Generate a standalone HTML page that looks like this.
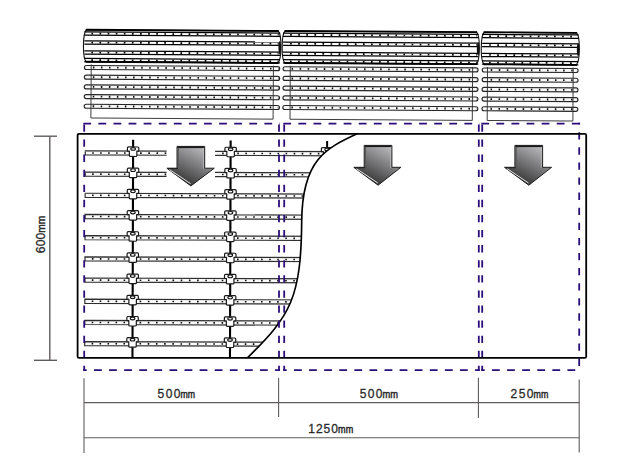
<!DOCTYPE html>
<html><head><meta charset="utf-8"><title>diagram</title>
<style>html,body{margin:0;padding:0;background:#fff;width:633px;height:470px;overflow:hidden}svg{display:block}</style>
</head><body>
<svg width="633" height="470" viewBox="0 0 633 470"><g transform="rotate(0.36 330 70)">
<path d="M86.19999999999999,31.3 L277.9,31.3 C280.1,33.3 280.8,39.3 280.8,47.3 C280.8,55.3 280.1,61.3 277.9,63.3 L86.19999999999999,63.3 C84.0,61.3 83.3,55.3 83.3,47.3 C83.3,39.3 84.0,33.3 86.19999999999999,31.3 Z" fill="#fff" stroke="#111" stroke-width="1.1"/>
<line x1="84.19999999999999" y1="33.4" x2="279.9" y2="33.4" stroke="#000" stroke-width="1.25"/>
<line x1="84.19999999999999" y1="36.7" x2="279.9" y2="36.7" stroke="#000" stroke-width="1.25"/>
<line x1="91.19999999999999" y1="35.05" x2="278.5" y2="35.05" stroke="#000" stroke-width="1.7" stroke-dasharray="1.7 6.4"/>
<line x1="84.19999999999999" y1="42.3" x2="279.9" y2="42.3" stroke="#000" stroke-width="1.25"/>
<line x1="84.19999999999999" y1="45.7" x2="279.9" y2="45.7" stroke="#000" stroke-width="1.25"/>
<line x1="91.19999999999999" y1="44.0" x2="278.5" y2="44.0" stroke="#000" stroke-width="1.7" stroke-dasharray="1.7 6.4"/>
<line x1="84.19999999999999" y1="52.4" x2="279.9" y2="52.4" stroke="#000" stroke-width="1.25"/>
<line x1="84.19999999999999" y1="55.6" x2="279.9" y2="55.6" stroke="#000" stroke-width="1.25"/>
<line x1="91.19999999999999" y1="54.0" x2="278.5" y2="54.0" stroke="#000" stroke-width="1.7" stroke-dasharray="1.7 6.4"/>
<line x1="84.19999999999999" y1="60.0" x2="279.9" y2="60.0" stroke="#000" stroke-width="1.25"/>
<line x1="84.19999999999999" y1="63.2" x2="279.9" y2="63.2" stroke="#000" stroke-width="1.25"/>
<line x1="91.19999999999999" y1="61.6" x2="278.5" y2="61.6" stroke="#000" stroke-width="1.7" stroke-dasharray="1.7 6.4"/>
<line x1="85.6" y1="63.3" x2="278.5" y2="63.3" stroke="#000" stroke-width="1.8"/>
<line x1="85.6" y1="31.3" x2="278.5" y2="31.3" stroke="#000" stroke-width="1.8"/>
<ellipse cx="279.6" cy="48.0" rx="1.3" ry="6.8" fill="#111"/>
<rect x="84.39999999999999" y="67.0" width="195.3" height="4" rx="2" fill="#f8f8f8" stroke="#262626" stroke-width="1.15"/>
<line x1="92.89999999999999" y1="69.0" x2="278.5" y2="69.0" stroke="#111" stroke-width="1.9" stroke-dasharray="1.5 6.55"/>
<rect x="84.39999999999999" y="76.7" width="195.3" height="4" rx="2" fill="#f8f8f8" stroke="#262626" stroke-width="1.15"/>
<line x1="92.89999999999999" y1="78.7" x2="278.5" y2="78.7" stroke="#111" stroke-width="1.9" stroke-dasharray="1.5 6.55"/>
<rect x="84.39999999999999" y="86.4" width="195.3" height="4" rx="2" fill="#f8f8f8" stroke="#262626" stroke-width="1.15"/>
<line x1="92.89999999999999" y1="88.4" x2="278.5" y2="88.4" stroke="#111" stroke-width="1.9" stroke-dasharray="1.5 6.55"/>
<rect x="84.39999999999999" y="96.1" width="195.3" height="4" rx="2" fill="#f8f8f8" stroke="#262626" stroke-width="1.15"/>
<line x1="92.89999999999999" y1="98.1" x2="278.5" y2="98.1" stroke="#111" stroke-width="1.9" stroke-dasharray="1.5 6.55"/>
<rect x="84.39999999999999" y="105.8" width="195.3" height="4" rx="2" fill="#f8f8f8" stroke="#262626" stroke-width="1.15"/>
<line x1="92.89999999999999" y1="107.8" x2="278.5" y2="107.8" stroke="#111" stroke-width="1.9" stroke-dasharray="1.5 6.55"/>
<polyline points="91.2,66 91.2,119.5 273.4,119.5 273.4,66" fill="none" stroke="#333" stroke-width="0.95"/>
<path d="M284.90000000000003,31.3 L476.29999999999995,31.3 C478.5,33.3 479.2,39.3 479.2,47.3 C479.2,55.3 478.5,61.3 476.29999999999995,63.3 L284.90000000000003,63.3 C282.7,61.3 282.0,55.3 282.0,47.3 C282.0,39.3 282.7,33.3 284.90000000000003,31.3 Z" fill="#fff" stroke="#111" stroke-width="1.1"/>
<line x1="282.90000000000003" y1="33.4" x2="478.29999999999995" y2="33.4" stroke="#000" stroke-width="1.25"/>
<line x1="282.90000000000003" y1="36.7" x2="478.29999999999995" y2="36.7" stroke="#000" stroke-width="1.25"/>
<line x1="289.90000000000003" y1="35.05" x2="476.9" y2="35.05" stroke="#000" stroke-width="1.7" stroke-dasharray="1.7 6.4"/>
<line x1="282.90000000000003" y1="42.3" x2="478.29999999999995" y2="42.3" stroke="#000" stroke-width="1.25"/>
<line x1="282.90000000000003" y1="45.7" x2="478.29999999999995" y2="45.7" stroke="#000" stroke-width="1.25"/>
<line x1="289.90000000000003" y1="44.0" x2="476.9" y2="44.0" stroke="#000" stroke-width="1.7" stroke-dasharray="1.7 6.4"/>
<line x1="282.90000000000003" y1="52.4" x2="478.29999999999995" y2="52.4" stroke="#000" stroke-width="1.25"/>
<line x1="282.90000000000003" y1="55.6" x2="478.29999999999995" y2="55.6" stroke="#000" stroke-width="1.25"/>
<line x1="289.90000000000003" y1="54.0" x2="476.9" y2="54.0" stroke="#000" stroke-width="1.7" stroke-dasharray="1.7 6.4"/>
<line x1="282.90000000000003" y1="60.0" x2="478.29999999999995" y2="60.0" stroke="#000" stroke-width="1.25"/>
<line x1="282.90000000000003" y1="63.2" x2="478.29999999999995" y2="63.2" stroke="#000" stroke-width="1.25"/>
<line x1="289.90000000000003" y1="61.6" x2="476.9" y2="61.6" stroke="#000" stroke-width="1.7" stroke-dasharray="1.7 6.4"/>
<line x1="284.3" y1="63.3" x2="476.9" y2="63.3" stroke="#000" stroke-width="1.8"/>
<line x1="284.3" y1="31.3" x2="476.9" y2="31.3" stroke="#000" stroke-width="1.8"/>
<ellipse cx="478.0" cy="48.0" rx="1.3" ry="6.8" fill="#111"/>
<rect x="283.1" y="67.0" width="194.99999999999997" height="4" rx="2" fill="#f8f8f8" stroke="#262626" stroke-width="1.15"/>
<line x1="291.6" y1="69.0" x2="476.9" y2="69.0" stroke="#111" stroke-width="1.9" stroke-dasharray="1.5 6.55"/>
<rect x="283.1" y="76.7" width="194.99999999999997" height="4" rx="2" fill="#f8f8f8" stroke="#262626" stroke-width="1.15"/>
<line x1="291.6" y1="78.7" x2="476.9" y2="78.7" stroke="#111" stroke-width="1.9" stroke-dasharray="1.5 6.55"/>
<rect x="283.1" y="86.4" width="194.99999999999997" height="4" rx="2" fill="#f8f8f8" stroke="#262626" stroke-width="1.15"/>
<line x1="291.6" y1="88.4" x2="476.9" y2="88.4" stroke="#111" stroke-width="1.9" stroke-dasharray="1.5 6.55"/>
<rect x="283.1" y="96.1" width="194.99999999999997" height="4" rx="2" fill="#f8f8f8" stroke="#262626" stroke-width="1.15"/>
<line x1="291.6" y1="98.1" x2="476.9" y2="98.1" stroke="#111" stroke-width="1.9" stroke-dasharray="1.5 6.55"/>
<rect x="283.1" y="105.8" width="194.99999999999997" height="4" rx="2" fill="#f8f8f8" stroke="#262626" stroke-width="1.15"/>
<line x1="291.6" y1="107.8" x2="476.9" y2="107.8" stroke="#111" stroke-width="1.9" stroke-dasharray="1.5 6.55"/>
<polyline points="290.3,66 290.3,119.5 472.6,119.5 472.6,66" fill="none" stroke="#333" stroke-width="0.95"/>
<path d="M484.0,31.3 L576.3,31.3 C578.5,33.3 579.1999999999999,39.3 579.1999999999999,47.3 C579.1999999999999,55.3 578.5,61.3 576.3,63.3 L484.0,63.3 C481.79999999999995,61.3 481.09999999999997,55.3 481.09999999999997,47.3 C481.09999999999997,39.3 481.79999999999995,33.3 484.0,31.3 Z" fill="#fff" stroke="#111" stroke-width="1.1"/>
<line x1="482.0" y1="33.4" x2="578.3" y2="33.4" stroke="#000" stroke-width="1.25"/>
<line x1="482.0" y1="36.7" x2="578.3" y2="36.7" stroke="#000" stroke-width="1.25"/>
<line x1="489.0" y1="35.05" x2="576.9" y2="35.05" stroke="#000" stroke-width="1.7" stroke-dasharray="1.7 6.4"/>
<line x1="482.0" y1="42.3" x2="578.3" y2="42.3" stroke="#000" stroke-width="1.25"/>
<line x1="482.0" y1="45.7" x2="578.3" y2="45.7" stroke="#000" stroke-width="1.25"/>
<line x1="489.0" y1="44.0" x2="576.9" y2="44.0" stroke="#000" stroke-width="1.7" stroke-dasharray="1.7 6.4"/>
<line x1="482.0" y1="52.4" x2="578.3" y2="52.4" stroke="#000" stroke-width="1.25"/>
<line x1="482.0" y1="55.6" x2="578.3" y2="55.6" stroke="#000" stroke-width="1.25"/>
<line x1="489.0" y1="54.0" x2="576.9" y2="54.0" stroke="#000" stroke-width="1.7" stroke-dasharray="1.7 6.4"/>
<line x1="482.0" y1="60.0" x2="578.3" y2="60.0" stroke="#000" stroke-width="1.25"/>
<line x1="482.0" y1="63.2" x2="578.3" y2="63.2" stroke="#000" stroke-width="1.25"/>
<line x1="489.0" y1="61.6" x2="576.9" y2="61.6" stroke="#000" stroke-width="1.7" stroke-dasharray="1.7 6.4"/>
<line x1="483.4" y1="63.3" x2="576.9" y2="63.3" stroke="#000" stroke-width="1.8"/>
<line x1="483.4" y1="31.3" x2="576.9" y2="31.3" stroke="#000" stroke-width="1.8"/>
<ellipse cx="578.0" cy="48.0" rx="1.3" ry="6.8" fill="#111"/>
<rect x="482.2" y="67.0" width="95.9" height="4" rx="2" fill="#f8f8f8" stroke="#262626" stroke-width="1.15"/>
<line x1="490.7" y1="69.0" x2="576.9" y2="69.0" stroke="#111" stroke-width="1.9" stroke-dasharray="1.5 6.55"/>
<rect x="482.2" y="76.7" width="95.9" height="4" rx="2" fill="#f8f8f8" stroke="#262626" stroke-width="1.15"/>
<line x1="490.7" y1="78.7" x2="576.9" y2="78.7" stroke="#111" stroke-width="1.9" stroke-dasharray="1.5 6.55"/>
<rect x="482.2" y="86.4" width="95.9" height="4" rx="2" fill="#f8f8f8" stroke="#262626" stroke-width="1.15"/>
<line x1="490.7" y1="88.4" x2="576.9" y2="88.4" stroke="#111" stroke-width="1.9" stroke-dasharray="1.5 6.55"/>
<rect x="482.2" y="96.1" width="95.9" height="4" rx="2" fill="#f8f8f8" stroke="#262626" stroke-width="1.15"/>
<line x1="490.7" y1="98.1" x2="576.9" y2="98.1" stroke="#111" stroke-width="1.9" stroke-dasharray="1.5 6.55"/>
<rect x="482.2" y="105.8" width="95.9" height="4" rx="2" fill="#f8f8f8" stroke="#262626" stroke-width="1.15"/>
<line x1="490.7" y1="107.8" x2="576.9" y2="107.8" stroke="#111" stroke-width="1.9" stroke-dasharray="1.5 6.55"/>
<polyline points="487.5,66 487.5,119.5 573.2,119.5 573.2,66" fill="none" stroke="#333" stroke-width="0.95"/>
</g>
<g transform="rotate(0.18 110 250)">
<line x1="132.8" y1="139.6" x2="132.8" y2="358" stroke="#000" stroke-width="2.1"/>
<line x1="230.3" y1="140" x2="230.3" y2="358" stroke="#000" stroke-width="2.1"/>
<line x1="326.8" y1="140.3" x2="326.8" y2="150" stroke="#000" stroke-width="2"/>
<rect x="85" y="150.95" width="81.30000000000001" height="4.1" fill="#fafafa"/>
<path d="M84.4,150.95 H166.3 M84.4,155.05 H166.3 M85,150.95 V155.05" fill="none" stroke="#2e2e2e" stroke-width="1.2"/>
<path d="M123.70,152.20h1.6v1.6h-1.6z M115.75,152.20h1.6v1.6h-1.6z M107.80,152.20h1.6v1.6h-1.6z M99.85,152.20h1.6v1.6h-1.6z M91.90,152.20h1.6v1.6h-1.6z M139.80,152.20h1.6v1.6h-1.6z M148.00,152.20h1.6v1.6h-1.6z M156.20,152.20h1.6v1.6h-1.6z M164.40,152.20h1.6v1.6h-1.6z" fill="#111"/>
<rect x="215.4" y="150.95" width="129.6" height="4.1" fill="#fafafa"/>
<path d="M214.8,150.95 H345 M214.8,155.05 H345" fill="none" stroke="#2e2e2e" stroke-width="1.2"/>
<path d="M221.80,152.20h1.6v1.6h-1.6z M237.00,152.20h1.6v1.6h-1.6z M245.05,152.20h1.6v1.6h-1.6z M253.10,152.20h1.6v1.6h-1.6z M261.15,152.20h1.6v1.6h-1.6z M269.20,152.20h1.6v1.6h-1.6z M277.25,152.20h1.6v1.6h-1.6z M285.30,152.20h1.6v1.6h-1.6z M293.35,152.20h1.6v1.6h-1.6z M301.40,152.20h1.6v1.6h-1.6z M309.45,152.20h1.6v1.6h-1.6z M317.50,152.20h1.6v1.6h-1.6z M325.55,152.20h1.6v1.6h-1.6z M333.60,152.20h1.6v1.6h-1.6z M341.65,152.20h1.6v1.6h-1.6z" fill="#111"/>
<rect x="85" y="172.14" width="81.30000000000001" height="4.1" fill="#fafafa"/>
<path d="M84.4,172.14 H166.3 M84.4,176.24 H166.3 M85,172.14 V176.24" fill="none" stroke="#2e2e2e" stroke-width="1.2"/>
<path d="M123.70,173.39h1.6v1.6h-1.6z M115.75,173.39h1.6v1.6h-1.6z M107.80,173.39h1.6v1.6h-1.6z M99.85,173.39h1.6v1.6h-1.6z M91.90,173.39h1.6v1.6h-1.6z M139.80,173.39h1.6v1.6h-1.6z M148.00,173.39h1.6v1.6h-1.6z M156.20,173.39h1.6v1.6h-1.6z M164.40,173.39h1.6v1.6h-1.6z" fill="#111"/>
<rect x="215.4" y="172.14" width="129.6" height="4.1" fill="#fafafa"/>
<path d="M214.8,172.14 H345 M214.8,176.24 H345" fill="none" stroke="#2e2e2e" stroke-width="1.2"/>
<path d="M221.80,173.39h1.6v1.6h-1.6z M237.00,173.39h1.6v1.6h-1.6z M245.05,173.39h1.6v1.6h-1.6z M253.10,173.39h1.6v1.6h-1.6z M261.15,173.39h1.6v1.6h-1.6z M269.20,173.39h1.6v1.6h-1.6z M277.25,173.39h1.6v1.6h-1.6z M285.30,173.39h1.6v1.6h-1.6z M293.35,173.39h1.6v1.6h-1.6z M301.40,173.39h1.6v1.6h-1.6z M309.45,173.39h1.6v1.6h-1.6z M317.50,173.39h1.6v1.6h-1.6z M325.55,173.39h1.6v1.6h-1.6z M333.60,173.39h1.6v1.6h-1.6z M341.65,173.39h1.6v1.6h-1.6z" fill="#111"/>
<rect x="85" y="193.32999999999998" width="260" height="4.1" fill="#fafafa"/>
<path d="M84.4,193.32999999999998 H345 M84.4,197.43 H345 M85,193.32999999999998 V197.43" fill="none" stroke="#2e2e2e" stroke-width="1.2"/>
<path d="M123.70,194.58h1.6v1.6h-1.6z M115.75,194.58h1.6v1.6h-1.6z M107.80,194.58h1.6v1.6h-1.6z M99.85,194.58h1.6v1.6h-1.6z M91.90,194.58h1.6v1.6h-1.6z M139.80,194.58h1.6v1.6h-1.6z M148.00,194.58h1.6v1.6h-1.6z M156.20,194.58h1.6v1.6h-1.6z M164.40,194.58h1.6v1.6h-1.6z M172.60,194.58h1.6v1.6h-1.6z M180.80,194.58h1.6v1.6h-1.6z M189.00,194.58h1.6v1.6h-1.6z M197.20,194.58h1.6v1.6h-1.6z M205.40,194.58h1.6v1.6h-1.6z M213.60,194.58h1.6v1.6h-1.6z M221.80,194.58h1.6v1.6h-1.6z M237.00,194.58h1.6v1.6h-1.6z M245.05,194.58h1.6v1.6h-1.6z M253.10,194.58h1.6v1.6h-1.6z M261.15,194.58h1.6v1.6h-1.6z M269.20,194.58h1.6v1.6h-1.6z M277.25,194.58h1.6v1.6h-1.6z M285.30,194.58h1.6v1.6h-1.6z M293.35,194.58h1.6v1.6h-1.6z M301.40,194.58h1.6v1.6h-1.6z M309.45,194.58h1.6v1.6h-1.6z M317.50,194.58h1.6v1.6h-1.6z M325.55,194.58h1.6v1.6h-1.6z M333.60,194.58h1.6v1.6h-1.6z M341.65,194.58h1.6v1.6h-1.6z" fill="#111"/>
<rect x="85" y="214.51999999999998" width="260" height="4.1" fill="#fafafa"/>
<path d="M84.4,214.51999999999998 H345 M84.4,218.62 H345 M85,214.51999999999998 V218.62" fill="none" stroke="#2e2e2e" stroke-width="1.2"/>
<path d="M123.70,215.77h1.6v1.6h-1.6z M115.75,215.77h1.6v1.6h-1.6z M107.80,215.77h1.6v1.6h-1.6z M99.85,215.77h1.6v1.6h-1.6z M91.90,215.77h1.6v1.6h-1.6z M139.80,215.77h1.6v1.6h-1.6z M148.00,215.77h1.6v1.6h-1.6z M156.20,215.77h1.6v1.6h-1.6z M164.40,215.77h1.6v1.6h-1.6z M172.60,215.77h1.6v1.6h-1.6z M180.80,215.77h1.6v1.6h-1.6z M189.00,215.77h1.6v1.6h-1.6z M197.20,215.77h1.6v1.6h-1.6z M205.40,215.77h1.6v1.6h-1.6z M213.60,215.77h1.6v1.6h-1.6z M221.80,215.77h1.6v1.6h-1.6z M237.00,215.77h1.6v1.6h-1.6z M245.05,215.77h1.6v1.6h-1.6z M253.10,215.77h1.6v1.6h-1.6z M261.15,215.77h1.6v1.6h-1.6z M269.20,215.77h1.6v1.6h-1.6z M277.25,215.77h1.6v1.6h-1.6z M285.30,215.77h1.6v1.6h-1.6z M293.35,215.77h1.6v1.6h-1.6z M301.40,215.77h1.6v1.6h-1.6z M309.45,215.77h1.6v1.6h-1.6z M317.50,215.77h1.6v1.6h-1.6z M325.55,215.77h1.6v1.6h-1.6z M333.60,215.77h1.6v1.6h-1.6z M341.65,215.77h1.6v1.6h-1.6z" fill="#111"/>
<rect x="85" y="235.70999999999998" width="260" height="4.1" fill="#fafafa"/>
<path d="M84.4,235.70999999999998 H345 M84.4,239.81 H345 M85,235.70999999999998 V239.81" fill="none" stroke="#2e2e2e" stroke-width="1.2"/>
<path d="M123.70,236.96h1.6v1.6h-1.6z M115.75,236.96h1.6v1.6h-1.6z M107.80,236.96h1.6v1.6h-1.6z M99.85,236.96h1.6v1.6h-1.6z M91.90,236.96h1.6v1.6h-1.6z M139.80,236.96h1.6v1.6h-1.6z M148.00,236.96h1.6v1.6h-1.6z M156.20,236.96h1.6v1.6h-1.6z M164.40,236.96h1.6v1.6h-1.6z M172.60,236.96h1.6v1.6h-1.6z M180.80,236.96h1.6v1.6h-1.6z M189.00,236.96h1.6v1.6h-1.6z M197.20,236.96h1.6v1.6h-1.6z M205.40,236.96h1.6v1.6h-1.6z M213.60,236.96h1.6v1.6h-1.6z M221.80,236.96h1.6v1.6h-1.6z M237.00,236.96h1.6v1.6h-1.6z M245.05,236.96h1.6v1.6h-1.6z M253.10,236.96h1.6v1.6h-1.6z M261.15,236.96h1.6v1.6h-1.6z M269.20,236.96h1.6v1.6h-1.6z M277.25,236.96h1.6v1.6h-1.6z M285.30,236.96h1.6v1.6h-1.6z M293.35,236.96h1.6v1.6h-1.6z M301.40,236.96h1.6v1.6h-1.6z M309.45,236.96h1.6v1.6h-1.6z M317.50,236.96h1.6v1.6h-1.6z M325.55,236.96h1.6v1.6h-1.6z M333.60,236.96h1.6v1.6h-1.6z M341.65,236.96h1.6v1.6h-1.6z" fill="#111"/>
<rect x="85" y="256.9" width="260" height="4.1" fill="#fafafa"/>
<path d="M84.4,256.9 H345 M84.4,261.0 H345 M85,256.9 V261.0" fill="none" stroke="#2e2e2e" stroke-width="1.2"/>
<path d="M123.70,258.15h1.6v1.6h-1.6z M115.75,258.15h1.6v1.6h-1.6z M107.80,258.15h1.6v1.6h-1.6z M99.85,258.15h1.6v1.6h-1.6z M91.90,258.15h1.6v1.6h-1.6z M139.80,258.15h1.6v1.6h-1.6z M148.00,258.15h1.6v1.6h-1.6z M156.20,258.15h1.6v1.6h-1.6z M164.40,258.15h1.6v1.6h-1.6z M172.60,258.15h1.6v1.6h-1.6z M180.80,258.15h1.6v1.6h-1.6z M189.00,258.15h1.6v1.6h-1.6z M197.20,258.15h1.6v1.6h-1.6z M205.40,258.15h1.6v1.6h-1.6z M213.60,258.15h1.6v1.6h-1.6z M221.80,258.15h1.6v1.6h-1.6z M237.00,258.15h1.6v1.6h-1.6z M245.05,258.15h1.6v1.6h-1.6z M253.10,258.15h1.6v1.6h-1.6z M261.15,258.15h1.6v1.6h-1.6z M269.20,258.15h1.6v1.6h-1.6z M277.25,258.15h1.6v1.6h-1.6z M285.30,258.15h1.6v1.6h-1.6z M293.35,258.15h1.6v1.6h-1.6z M301.40,258.15h1.6v1.6h-1.6z M309.45,258.15h1.6v1.6h-1.6z M317.50,258.15h1.6v1.6h-1.6z M325.55,258.15h1.6v1.6h-1.6z M333.60,258.15h1.6v1.6h-1.6z M341.65,258.15h1.6v1.6h-1.6z" fill="#111"/>
<rect x="85" y="278.09" width="260" height="4.1" fill="#fafafa"/>
<path d="M84.4,278.09 H345 M84.4,282.19 H345 M85,278.09 V282.19" fill="none" stroke="#2e2e2e" stroke-width="1.2"/>
<path d="M123.70,279.34h1.6v1.6h-1.6z M115.75,279.34h1.6v1.6h-1.6z M107.80,279.34h1.6v1.6h-1.6z M99.85,279.34h1.6v1.6h-1.6z M91.90,279.34h1.6v1.6h-1.6z M139.80,279.34h1.6v1.6h-1.6z M148.00,279.34h1.6v1.6h-1.6z M156.20,279.34h1.6v1.6h-1.6z M164.40,279.34h1.6v1.6h-1.6z M172.60,279.34h1.6v1.6h-1.6z M180.80,279.34h1.6v1.6h-1.6z M189.00,279.34h1.6v1.6h-1.6z M197.20,279.34h1.6v1.6h-1.6z M205.40,279.34h1.6v1.6h-1.6z M213.60,279.34h1.6v1.6h-1.6z M221.80,279.34h1.6v1.6h-1.6z M237.00,279.34h1.6v1.6h-1.6z M245.05,279.34h1.6v1.6h-1.6z M253.10,279.34h1.6v1.6h-1.6z M261.15,279.34h1.6v1.6h-1.6z M269.20,279.34h1.6v1.6h-1.6z M277.25,279.34h1.6v1.6h-1.6z M285.30,279.34h1.6v1.6h-1.6z M293.35,279.34h1.6v1.6h-1.6z M301.40,279.34h1.6v1.6h-1.6z M309.45,279.34h1.6v1.6h-1.6z M317.50,279.34h1.6v1.6h-1.6z M325.55,279.34h1.6v1.6h-1.6z M333.60,279.34h1.6v1.6h-1.6z M341.65,279.34h1.6v1.6h-1.6z" fill="#111"/>
<rect x="85" y="299.28" width="260" height="4.1" fill="#fafafa"/>
<path d="M84.4,299.28 H345 M84.4,303.38 H345 M85,299.28 V303.38" fill="none" stroke="#2e2e2e" stroke-width="1.2"/>
<path d="M123.70,300.53h1.6v1.6h-1.6z M115.75,300.53h1.6v1.6h-1.6z M107.80,300.53h1.6v1.6h-1.6z M99.85,300.53h1.6v1.6h-1.6z M91.90,300.53h1.6v1.6h-1.6z M139.80,300.53h1.6v1.6h-1.6z M148.00,300.53h1.6v1.6h-1.6z M156.20,300.53h1.6v1.6h-1.6z M164.40,300.53h1.6v1.6h-1.6z M172.60,300.53h1.6v1.6h-1.6z M180.80,300.53h1.6v1.6h-1.6z M189.00,300.53h1.6v1.6h-1.6z M197.20,300.53h1.6v1.6h-1.6z M205.40,300.53h1.6v1.6h-1.6z M213.60,300.53h1.6v1.6h-1.6z M221.80,300.53h1.6v1.6h-1.6z M237.00,300.53h1.6v1.6h-1.6z M245.05,300.53h1.6v1.6h-1.6z M253.10,300.53h1.6v1.6h-1.6z M261.15,300.53h1.6v1.6h-1.6z M269.20,300.53h1.6v1.6h-1.6z M277.25,300.53h1.6v1.6h-1.6z M285.30,300.53h1.6v1.6h-1.6z M293.35,300.53h1.6v1.6h-1.6z M301.40,300.53h1.6v1.6h-1.6z M309.45,300.53h1.6v1.6h-1.6z M317.50,300.53h1.6v1.6h-1.6z M325.55,300.53h1.6v1.6h-1.6z M333.60,300.53h1.6v1.6h-1.6z M341.65,300.53h1.6v1.6h-1.6z" fill="#111"/>
<rect x="85" y="320.46999999999997" width="260" height="4.1" fill="#fafafa"/>
<path d="M84.4,320.46999999999997 H345 M84.4,324.57 H345 M85,320.46999999999997 V324.57" fill="none" stroke="#2e2e2e" stroke-width="1.2"/>
<path d="M123.70,321.72h1.6v1.6h-1.6z M115.75,321.72h1.6v1.6h-1.6z M107.80,321.72h1.6v1.6h-1.6z M99.85,321.72h1.6v1.6h-1.6z M91.90,321.72h1.6v1.6h-1.6z M139.80,321.72h1.6v1.6h-1.6z M148.00,321.72h1.6v1.6h-1.6z M156.20,321.72h1.6v1.6h-1.6z M164.40,321.72h1.6v1.6h-1.6z M172.60,321.72h1.6v1.6h-1.6z M180.80,321.72h1.6v1.6h-1.6z M189.00,321.72h1.6v1.6h-1.6z M197.20,321.72h1.6v1.6h-1.6z M205.40,321.72h1.6v1.6h-1.6z M213.60,321.72h1.6v1.6h-1.6z M221.80,321.72h1.6v1.6h-1.6z M237.00,321.72h1.6v1.6h-1.6z M245.05,321.72h1.6v1.6h-1.6z M253.10,321.72h1.6v1.6h-1.6z M261.15,321.72h1.6v1.6h-1.6z M269.20,321.72h1.6v1.6h-1.6z M277.25,321.72h1.6v1.6h-1.6z M285.30,321.72h1.6v1.6h-1.6z M293.35,321.72h1.6v1.6h-1.6z M301.40,321.72h1.6v1.6h-1.6z M309.45,321.72h1.6v1.6h-1.6z M317.50,321.72h1.6v1.6h-1.6z M325.55,321.72h1.6v1.6h-1.6z M333.60,321.72h1.6v1.6h-1.6z M341.65,321.72h1.6v1.6h-1.6z" fill="#111"/>
<rect x="85" y="341.65999999999997" width="260" height="4.1" fill="#fafafa"/>
<path d="M84.4,341.65999999999997 H345 M84.4,345.76 H345 M85,341.65999999999997 V345.76" fill="none" stroke="#2e2e2e" stroke-width="1.2"/>
<path d="M123.70,342.91h1.6v1.6h-1.6z M115.75,342.91h1.6v1.6h-1.6z M107.80,342.91h1.6v1.6h-1.6z M99.85,342.91h1.6v1.6h-1.6z M91.90,342.91h1.6v1.6h-1.6z M139.80,342.91h1.6v1.6h-1.6z M148.00,342.91h1.6v1.6h-1.6z M156.20,342.91h1.6v1.6h-1.6z M164.40,342.91h1.6v1.6h-1.6z M172.60,342.91h1.6v1.6h-1.6z M180.80,342.91h1.6v1.6h-1.6z M189.00,342.91h1.6v1.6h-1.6z M197.20,342.91h1.6v1.6h-1.6z M205.40,342.91h1.6v1.6h-1.6z M213.60,342.91h1.6v1.6h-1.6z M221.80,342.91h1.6v1.6h-1.6z M237.00,342.91h1.6v1.6h-1.6z M245.05,342.91h1.6v1.6h-1.6z M253.10,342.91h1.6v1.6h-1.6z M261.15,342.91h1.6v1.6h-1.6z M269.20,342.91h1.6v1.6h-1.6z M277.25,342.91h1.6v1.6h-1.6z M285.30,342.91h1.6v1.6h-1.6z M293.35,342.91h1.6v1.6h-1.6z M301.40,342.91h1.6v1.6h-1.6z M309.45,342.91h1.6v1.6h-1.6z M317.50,342.91h1.6v1.6h-1.6z M325.55,342.91h1.6v1.6h-1.6z M333.60,342.91h1.6v1.6h-1.6z M341.65,342.91h1.6v1.6h-1.6z" fill="#111"/>
<path d="M127.10000000000001,147.9 Q127.10000000000001,146.9 128.10000000000002,146.9 L137.5,146.9 Q138.5,146.9 138.5,147.9 L138.5,151.0 L136.55,151.0 L136.55,155.4 Q136.55,156.4 135.55,156.4 L130.05,156.4 Q129.05,156.4 129.05,155.4 L129.05,151.0 L127.10000000000001,151.0 Z" fill="#fff" stroke="#1a1a1a" stroke-width="1.2" stroke-linejoin="round"/>
<ellipse cx="132.8" cy="148.9" rx="2.3" ry="1.35" fill="#fff" stroke="#111" stroke-width="1.1"/>
<path d="M224.60000000000002,147.9 Q224.60000000000002,146.9 225.60000000000002,146.9 L235.0,146.9 Q236.0,146.9 236.0,147.9 L236.0,151.0 L234.05,151.0 L234.05,155.4 Q234.05,156.4 233.05,156.4 L227.55,156.4 Q226.55,156.4 226.55,155.4 L226.55,151.0 L224.60000000000002,151.0 Z" fill="#fff" stroke="#1a1a1a" stroke-width="1.2" stroke-linejoin="round"/>
<ellipse cx="230.3" cy="148.9" rx="2.3" ry="1.35" fill="#fff" stroke="#111" stroke-width="1.1"/>
<path d="M127.10000000000001,169.09 Q127.10000000000001,168.09 128.10000000000002,168.09 L137.5,168.09 Q138.5,168.09 138.5,169.09 L138.5,172.19 L136.55,172.19 L136.55,176.59 Q136.55,177.59 135.55,177.59 L130.05,177.59 Q129.05,177.59 129.05,176.59 L129.05,172.19 L127.10000000000001,172.19 Z" fill="#fff" stroke="#1a1a1a" stroke-width="1.2" stroke-linejoin="round"/>
<ellipse cx="132.8" cy="170.09" rx="2.3" ry="1.35" fill="#fff" stroke="#111" stroke-width="1.1"/>
<path d="M224.60000000000002,169.09 Q224.60000000000002,168.09 225.60000000000002,168.09 L235.0,168.09 Q236.0,168.09 236.0,169.09 L236.0,172.19 L234.05,172.19 L234.05,176.59 Q234.05,177.59 233.05,177.59 L227.55,177.59 Q226.55,177.59 226.55,176.59 L226.55,172.19 L224.60000000000002,172.19 Z" fill="#fff" stroke="#1a1a1a" stroke-width="1.2" stroke-linejoin="round"/>
<ellipse cx="230.3" cy="170.09" rx="2.3" ry="1.35" fill="#fff" stroke="#111" stroke-width="1.1"/>
<path d="M127.10000000000001,190.28 Q127.10000000000001,189.28 128.10000000000002,189.28 L137.5,189.28 Q138.5,189.28 138.5,190.28 L138.5,193.38 L136.55,193.38 L136.55,197.78 Q136.55,198.78 135.55,198.78 L130.05,198.78 Q129.05,198.78 129.05,197.78 L129.05,193.38 L127.10000000000001,193.38 Z" fill="#fff" stroke="#1a1a1a" stroke-width="1.2" stroke-linejoin="round"/>
<ellipse cx="132.8" cy="191.28" rx="2.3" ry="1.35" fill="#fff" stroke="#111" stroke-width="1.1"/>
<path d="M224.60000000000002,190.28 Q224.60000000000002,189.28 225.60000000000002,189.28 L235.0,189.28 Q236.0,189.28 236.0,190.28 L236.0,193.38 L234.05,193.38 L234.05,197.78 Q234.05,198.78 233.05,198.78 L227.55,198.78 Q226.55,198.78 226.55,197.78 L226.55,193.38 L224.60000000000002,193.38 Z" fill="#fff" stroke="#1a1a1a" stroke-width="1.2" stroke-linejoin="round"/>
<ellipse cx="230.3" cy="191.28" rx="2.3" ry="1.35" fill="#fff" stroke="#111" stroke-width="1.1"/>
<path d="M127.10000000000001,211.47 Q127.10000000000001,210.47 128.10000000000002,210.47 L137.5,210.47 Q138.5,210.47 138.5,211.47 L138.5,214.57 L136.55,214.57 L136.55,218.97 Q136.55,219.97 135.55,219.97 L130.05,219.97 Q129.05,219.97 129.05,218.97 L129.05,214.57 L127.10000000000001,214.57 Z" fill="#fff" stroke="#1a1a1a" stroke-width="1.2" stroke-linejoin="round"/>
<ellipse cx="132.8" cy="212.47" rx="2.3" ry="1.35" fill="#fff" stroke="#111" stroke-width="1.1"/>
<path d="M224.60000000000002,211.47 Q224.60000000000002,210.47 225.60000000000002,210.47 L235.0,210.47 Q236.0,210.47 236.0,211.47 L236.0,214.57 L234.05,214.57 L234.05,218.97 Q234.05,219.97 233.05,219.97 L227.55,219.97 Q226.55,219.97 226.55,218.97 L226.55,214.57 L224.60000000000002,214.57 Z" fill="#fff" stroke="#1a1a1a" stroke-width="1.2" stroke-linejoin="round"/>
<ellipse cx="230.3" cy="212.47" rx="2.3" ry="1.35" fill="#fff" stroke="#111" stroke-width="1.1"/>
<path d="M127.10000000000001,232.66 Q127.10000000000001,231.66 128.10000000000002,231.66 L137.5,231.66 Q138.5,231.66 138.5,232.66 L138.5,235.76 L136.55,235.76 L136.55,240.16 Q136.55,241.16 135.55,241.16 L130.05,241.16 Q129.05,241.16 129.05,240.16 L129.05,235.76 L127.10000000000001,235.76 Z" fill="#fff" stroke="#1a1a1a" stroke-width="1.2" stroke-linejoin="round"/>
<ellipse cx="132.8" cy="233.66" rx="2.3" ry="1.35" fill="#fff" stroke="#111" stroke-width="1.1"/>
<path d="M224.60000000000002,232.66 Q224.60000000000002,231.66 225.60000000000002,231.66 L235.0,231.66 Q236.0,231.66 236.0,232.66 L236.0,235.76 L234.05,235.76 L234.05,240.16 Q234.05,241.16 233.05,241.16 L227.55,241.16 Q226.55,241.16 226.55,240.16 L226.55,235.76 L224.60000000000002,235.76 Z" fill="#fff" stroke="#1a1a1a" stroke-width="1.2" stroke-linejoin="round"/>
<ellipse cx="230.3" cy="233.66" rx="2.3" ry="1.35" fill="#fff" stroke="#111" stroke-width="1.1"/>
<path d="M127.10000000000001,253.85 Q127.10000000000001,252.85 128.10000000000002,252.85 L137.5,252.85 Q138.5,252.85 138.5,253.85 L138.5,256.95 L136.55,256.95 L136.55,261.34999999999997 Q136.55,262.34999999999997 135.55,262.34999999999997 L130.05,262.34999999999997 Q129.05,262.34999999999997 129.05,261.34999999999997 L129.05,256.95 L127.10000000000001,256.95 Z" fill="#fff" stroke="#1a1a1a" stroke-width="1.2" stroke-linejoin="round"/>
<ellipse cx="132.8" cy="254.85" rx="2.3" ry="1.35" fill="#fff" stroke="#111" stroke-width="1.1"/>
<path d="M224.60000000000002,253.85 Q224.60000000000002,252.85 225.60000000000002,252.85 L235.0,252.85 Q236.0,252.85 236.0,253.85 L236.0,256.95 L234.05,256.95 L234.05,261.34999999999997 Q234.05,262.34999999999997 233.05,262.34999999999997 L227.55,262.34999999999997 Q226.55,262.34999999999997 226.55,261.34999999999997 L226.55,256.95 L224.60000000000002,256.95 Z" fill="#fff" stroke="#1a1a1a" stroke-width="1.2" stroke-linejoin="round"/>
<ellipse cx="230.3" cy="254.85" rx="2.3" ry="1.35" fill="#fff" stroke="#111" stroke-width="1.1"/>
<path d="M127.10000000000001,275.03999999999996 Q127.10000000000001,274.03999999999996 128.10000000000002,274.03999999999996 L137.5,274.03999999999996 Q138.5,274.03999999999996 138.5,275.03999999999996 L138.5,278.14 L136.55,278.14 L136.55,282.53999999999996 Q136.55,283.53999999999996 135.55,283.53999999999996 L130.05,283.53999999999996 Q129.05,283.53999999999996 129.05,282.53999999999996 L129.05,278.14 L127.10000000000001,278.14 Z" fill="#fff" stroke="#1a1a1a" stroke-width="1.2" stroke-linejoin="round"/>
<ellipse cx="132.8" cy="276.03999999999996" rx="2.3" ry="1.35" fill="#fff" stroke="#111" stroke-width="1.1"/>
<path d="M224.60000000000002,275.03999999999996 Q224.60000000000002,274.03999999999996 225.60000000000002,274.03999999999996 L235.0,274.03999999999996 Q236.0,274.03999999999996 236.0,275.03999999999996 L236.0,278.14 L234.05,278.14 L234.05,282.53999999999996 Q234.05,283.53999999999996 233.05,283.53999999999996 L227.55,283.53999999999996 Q226.55,283.53999999999996 226.55,282.53999999999996 L226.55,278.14 L224.60000000000002,278.14 Z" fill="#fff" stroke="#1a1a1a" stroke-width="1.2" stroke-linejoin="round"/>
<ellipse cx="230.3" cy="276.03999999999996" rx="2.3" ry="1.35" fill="#fff" stroke="#111" stroke-width="1.1"/>
<path d="M127.10000000000001,296.22999999999996 Q127.10000000000001,295.22999999999996 128.10000000000002,295.22999999999996 L137.5,295.22999999999996 Q138.5,295.22999999999996 138.5,296.22999999999996 L138.5,299.33 L136.55,299.33 L136.55,303.72999999999996 Q136.55,304.72999999999996 135.55,304.72999999999996 L130.05,304.72999999999996 Q129.05,304.72999999999996 129.05,303.72999999999996 L129.05,299.33 L127.10000000000001,299.33 Z" fill="#fff" stroke="#1a1a1a" stroke-width="1.2" stroke-linejoin="round"/>
<ellipse cx="132.8" cy="297.22999999999996" rx="2.3" ry="1.35" fill="#fff" stroke="#111" stroke-width="1.1"/>
<path d="M224.60000000000002,296.22999999999996 Q224.60000000000002,295.22999999999996 225.60000000000002,295.22999999999996 L235.0,295.22999999999996 Q236.0,295.22999999999996 236.0,296.22999999999996 L236.0,299.33 L234.05,299.33 L234.05,303.72999999999996 Q234.05,304.72999999999996 233.05,304.72999999999996 L227.55,304.72999999999996 Q226.55,304.72999999999996 226.55,303.72999999999996 L226.55,299.33 L224.60000000000002,299.33 Z" fill="#fff" stroke="#1a1a1a" stroke-width="1.2" stroke-linejoin="round"/>
<ellipse cx="230.3" cy="297.22999999999996" rx="2.3" ry="1.35" fill="#fff" stroke="#111" stroke-width="1.1"/>
<path d="M127.10000000000001,317.41999999999996 Q127.10000000000001,316.41999999999996 128.10000000000002,316.41999999999996 L137.5,316.41999999999996 Q138.5,316.41999999999996 138.5,317.41999999999996 L138.5,320.52 L136.55,320.52 L136.55,324.91999999999996 Q136.55,325.91999999999996 135.55,325.91999999999996 L130.05,325.91999999999996 Q129.05,325.91999999999996 129.05,324.91999999999996 L129.05,320.52 L127.10000000000001,320.52 Z" fill="#fff" stroke="#1a1a1a" stroke-width="1.2" stroke-linejoin="round"/>
<ellipse cx="132.8" cy="318.41999999999996" rx="2.3" ry="1.35" fill="#fff" stroke="#111" stroke-width="1.1"/>
<path d="M224.60000000000002,317.41999999999996 Q224.60000000000002,316.41999999999996 225.60000000000002,316.41999999999996 L235.0,316.41999999999996 Q236.0,316.41999999999996 236.0,317.41999999999996 L236.0,320.52 L234.05,320.52 L234.05,324.91999999999996 Q234.05,325.91999999999996 233.05,325.91999999999996 L227.55,325.91999999999996 Q226.55,325.91999999999996 226.55,324.91999999999996 L226.55,320.52 L224.60000000000002,320.52 Z" fill="#fff" stroke="#1a1a1a" stroke-width="1.2" stroke-linejoin="round"/>
<ellipse cx="230.3" cy="318.41999999999996" rx="2.3" ry="1.35" fill="#fff" stroke="#111" stroke-width="1.1"/>
<path d="M127.10000000000001,338.60999999999996 Q127.10000000000001,337.60999999999996 128.10000000000002,337.60999999999996 L137.5,337.60999999999996 Q138.5,337.60999999999996 138.5,338.60999999999996 L138.5,341.71 L136.55,341.71 L136.55,346.10999999999996 Q136.55,347.10999999999996 135.55,347.10999999999996 L130.05,347.10999999999996 Q129.05,347.10999999999996 129.05,346.10999999999996 L129.05,341.71 L127.10000000000001,341.71 Z" fill="#fff" stroke="#1a1a1a" stroke-width="1.2" stroke-linejoin="round"/>
<ellipse cx="132.8" cy="339.60999999999996" rx="2.3" ry="1.35" fill="#fff" stroke="#111" stroke-width="1.1"/>
<path d="M224.60000000000002,338.60999999999996 Q224.60000000000002,337.60999999999996 225.60000000000002,337.60999999999996 L235.0,337.60999999999996 Q236.0,337.60999999999996 236.0,338.60999999999996 L236.0,341.71 L234.05,341.71 L234.05,346.10999999999996 Q234.05,347.10999999999996 233.05,347.10999999999996 L227.55,347.10999999999996 Q226.55,347.10999999999996 226.55,346.10999999999996 L226.55,341.71 L224.60000000000002,341.71 Z" fill="#fff" stroke="#1a1a1a" stroke-width="1.2" stroke-linejoin="round"/>
<ellipse cx="230.3" cy="339.60999999999996" rx="2.3" ry="1.35" fill="#fff" stroke="#111" stroke-width="1.1"/>
<path d="M321.1,147.9 Q321.1,146.9 322.1,146.9 L331.5,146.9 Q332.5,146.9 332.5,147.9 L332.5,151.0 L330.55,151.0 L330.55,155.4 Q330.55,156.4 329.55,156.4 L324.05,156.4 Q323.05,156.4 323.05,155.4 L323.05,151.0 L321.1,151.0 Z" fill="#fff" stroke="#1a1a1a" stroke-width="1.2" stroke-linejoin="round"/>
<ellipse cx="326.8" cy="148.9" rx="2.3" ry="1.35" fill="#fff" stroke="#111" stroke-width="1.1"/>
</g>
<path d="M357.22,133.80 C326.24,148.20 302.19,159.29 301.70,221.12 C301.08,298.08 290.58,315.58 247.44,357.80 L600,357.8 L600,133.8 Z" fill="#fff"/>
<path d="M357.22,133.80 C326.24,148.20 302.19,159.29 301.70,221.12 C301.08,298.08 290.58,315.58 247.44,357.80" fill="none" stroke="#000" stroke-width="1.65"/>
<line x1="83.3" y1="123.7" x2="279.9" y2="123.7" stroke="#2a0f7a" stroke-width="1.8" stroke-dasharray="7.8 7.29"/>
<line x1="83.3" y1="370.2" x2="279.9" y2="370.2" stroke="#2a0f7a" stroke-width="1.8" stroke-dasharray="7.8 7.29" stroke-dashoffset="4.4"/>
<line x1="84.2" y1="122.8" x2="84.2" y2="371.09999999999997" stroke="#2a0f7a" stroke-width="1.8" stroke-dasharray="7.3 7.79" stroke-dashoffset="-1.6"/>
<line x1="279.0" y1="122.8" x2="279.0" y2="371.09999999999997" stroke="#2a0f7a" stroke-width="1.8" stroke-dasharray="7.3 7.79" stroke-dashoffset="-1.6"/>
<line x1="283.3" y1="123.7" x2="479.7" y2="123.7" stroke="#2a0f7a" stroke-width="1.8" stroke-dasharray="7.8 7.29"/>
<line x1="283.3" y1="370.2" x2="479.7" y2="370.2" stroke="#2a0f7a" stroke-width="1.8" stroke-dasharray="7.8 7.29" stroke-dashoffset="4.4"/>
<line x1="284.2" y1="122.8" x2="284.2" y2="371.09999999999997" stroke="#2a0f7a" stroke-width="1.8" stroke-dasharray="7.3 7.79" stroke-dashoffset="-1.6"/>
<line x1="478.8" y1="122.8" x2="478.8" y2="371.09999999999997" stroke="#2a0f7a" stroke-width="1.8" stroke-dasharray="7.3 7.79" stroke-dashoffset="-1.6"/>
<line x1="481.3" y1="123.7" x2="580.1" y2="123.7" stroke="#2a0f7a" stroke-width="1.8" stroke-dasharray="7.8 7.29"/>
<line x1="481.3" y1="370.2" x2="580.1" y2="370.2" stroke="#2a0f7a" stroke-width="1.8" stroke-dasharray="7.8 7.29" stroke-dashoffset="4.4"/>
<line x1="482.2" y1="122.8" x2="482.2" y2="371.09999999999997" stroke="#2a0f7a" stroke-width="1.8" stroke-dasharray="7.3 7.79" stroke-dashoffset="-1.6"/>
<line x1="579.2" y1="122.8" x2="579.2" y2="371.09999999999997" stroke="#2a0f7a" stroke-width="1.8" stroke-dasharray="7.3 7.79" stroke-dashoffset="-9.45"/>
<defs><linearGradient id="ag" x1="0.85" y1="0" x2="0.25" y2="1"><stop offset="0" stop-color="#c4c4c6"/><stop offset="0.45" stop-color="#7c7c7e"/><stop offset="1" stop-color="#262626"/></linearGradient></defs>
<polygon points="177,146.4 204.7,146.4 204.7,168.2 214.3,168.2 190.9,185.9 166.9,168.2 177,168.2" fill="url(#ag)" stroke="#1e1e1e" stroke-width="1" stroke-linejoin="miter"/>
<line x1="177.5" y1="147.3" x2="204.2" y2="147.3" stroke="#1a1a1a" stroke-width="1.6"/>
<line x1="178.3" y1="147.9" x2="178.3" y2="168.7" stroke="#5a5a5a" stroke-width="1.2"/>
<line x1="203.39999999999998" y1="147.9" x2="203.39999999999998" y2="168.7" stroke="#bdbdbd" stroke-width="0.8"/>
<line x1="169.4" y1="169.5" x2="190.6" y2="183.70000000000002" stroke="#e8e8e8" stroke-width="1.0"/>
<line x1="167.9" y1="168.6" x2="178" y2="168.6" stroke="#222" stroke-width="1.1"/>
<polygon points="364.2,145.4 391.9,145.4 391.9,167.3 400.9,167.3 378.1,185.2 353.8,167.3 364.2,167.3" fill="url(#ag)" stroke="#1e1e1e" stroke-width="1" stroke-linejoin="miter"/>
<line x1="364.7" y1="146.3" x2="391.4" y2="146.3" stroke="#1a1a1a" stroke-width="1.6"/>
<line x1="365.5" y1="146.9" x2="365.5" y2="167.8" stroke="#5a5a5a" stroke-width="1.2"/>
<line x1="390.59999999999997" y1="146.9" x2="390.59999999999997" y2="167.8" stroke="#bdbdbd" stroke-width="0.8"/>
<line x1="356.3" y1="168.60000000000002" x2="377.8" y2="183.0" stroke="#e8e8e8" stroke-width="1.0"/>
<line x1="354.8" y1="167.70000000000002" x2="365.2" y2="167.70000000000002" stroke="#222" stroke-width="1.1"/>
<polygon points="514.9,145.4 542.6,145.4 542.6,167.3 551.6,167.3 528.8,185.2 504.5,167.3 514.9,167.3" fill="url(#ag)" stroke="#1e1e1e" stroke-width="1" stroke-linejoin="miter"/>
<line x1="515.4" y1="146.3" x2="542.1" y2="146.3" stroke="#1a1a1a" stroke-width="1.6"/>
<line x1="516.1999999999999" y1="146.9" x2="516.1999999999999" y2="167.8" stroke="#5a5a5a" stroke-width="1.2"/>
<line x1="541.3000000000001" y1="146.9" x2="541.3000000000001" y2="167.8" stroke="#bdbdbd" stroke-width="0.8"/>
<line x1="507.0" y1="168.60000000000002" x2="528.5" y2="183.0" stroke="#e8e8e8" stroke-width="1.0"/>
<line x1="505.5" y1="167.70000000000002" x2="515.9" y2="167.70000000000002" stroke="#222" stroke-width="1.1"/>
<rect x="77.6" y="133.8" width="508.6" height="224.09999999999997" rx="1.5" fill="none" stroke="#000" stroke-width="1.8"/>
<line x1="34" y1="136.2" x2="57" y2="136.2" stroke="#615c5c" stroke-width="1.4"/>
<line x1="34" y1="360.3" x2="57" y2="360.3" stroke="#615c5c" stroke-width="1.4"/>
<line x1="49.8" y1="136.2" x2="49.8" y2="360.3" stroke="#615c5c" stroke-width="1.4"/>
<line x1="84" y1="378.2" x2="84" y2="452.9" stroke="#615c5c" stroke-width="1.1"/>
<line x1="579.2" y1="379.6" x2="579.2" y2="452.6" stroke="#615c5c" stroke-width="1.1"/>
<line x1="278.6" y1="378" x2="278.6" y2="417.1" stroke="#615c5c" stroke-width="1.1"/>
<line x1="478.4" y1="377.7" x2="478.4" y2="418" stroke="#615c5c" stroke-width="1.1"/>
<line x1="84" y1="402.6" x2="579.2" y2="402.6" stroke="#615c5c" stroke-width="1.1"/>
<line x1="84" y1="437.7" x2="579.2" y2="437.7" stroke="#615c5c" stroke-width="1.1"/>
<text x="157.6" y="397.7" font-family="Liberation Sans, sans-serif" font-size="12" fill="#2a2a2a" stroke="#2a2a2a" stroke-width="0.3" textLength="22.799999999999997" lengthAdjust="spacing">500</text>
<text x="180.49999999999997" y="397.7" font-family="Liberation Sans, sans-serif" font-size="10.2" fill="#2a2a2a" stroke="#2a2a2a" stroke-width="0.45" textLength="14.600000000000028" lengthAdjust="spacingAndGlyphs">mm</text>
<text x="359.7" y="397.7" font-family="Liberation Sans, sans-serif" font-size="12" fill="#2a2a2a" stroke="#2a2a2a" stroke-width="0.3" textLength="22.799999999999997" lengthAdjust="spacing">500</text>
<text x="382.6" y="397.7" font-family="Liberation Sans, sans-serif" font-size="10.2" fill="#2a2a2a" stroke="#2a2a2a" stroke-width="0.45" textLength="15.499999999999977" lengthAdjust="spacingAndGlyphs">mm</text>
<text x="510.6" y="397.7" font-family="Liberation Sans, sans-serif" font-size="12" fill="#2a2a2a" stroke="#2a2a2a" stroke-width="0.3" textLength="22.799999999999997" lengthAdjust="spacing">250</text>
<text x="533.5" y="397.7" font-family="Liberation Sans, sans-serif" font-size="10.2" fill="#2a2a2a" stroke="#2a2a2a" stroke-width="0.45" textLength="14.800000000000045" lengthAdjust="spacingAndGlyphs">mm</text>
<text x="308.2" y="432.7" font-family="Liberation Sans, sans-serif" font-size="12" fill="#2a2a2a" stroke="#2a2a2a" stroke-width="0.3" textLength="29.8" lengthAdjust="spacing">1250</text>
<text x="338.1" y="432.7" font-family="Liberation Sans, sans-serif" font-size="10.2" fill="#2a2a2a" stroke="#2a2a2a" stroke-width="0.45" textLength="15.1" lengthAdjust="spacingAndGlyphs">mm</text>
<g transform="translate(44.9,252.7) rotate(-90)">
<text x="-0.5" y="0" font-family="Liberation Sans, sans-serif" font-size="12" fill="#2a2a2a" stroke="#2a2a2a" stroke-width="0.3" textLength="20.4" lengthAdjust="spacing">600</text>
<text x="20.0" y="0" font-family="Liberation Sans, sans-serif" font-size="10.2" fill="#2a2a2a" stroke="#2a2a2a" stroke-width="0.45" textLength="17.0" lengthAdjust="spacingAndGlyphs">mm</text>
</g></svg>
</body></html>
